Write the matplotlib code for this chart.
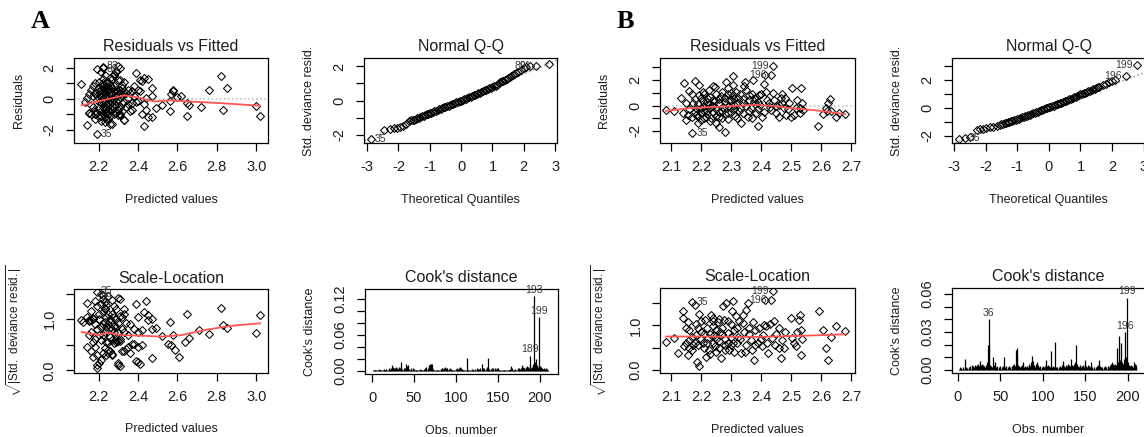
import matplotlib
matplotlib.use("Agg")
import matplotlib.pyplot as plt
import numpy as np

plt.rcParams['font.family'] = ['Liberation Sans', 'DejaVu Sans']
plt.rcParams['mathtext.fontset'] = 'custom'
plt.rcParams['mathtext.rm'] = 'Liberation Sans'

# ---------------- model A ----------------
# residuals vs fitted (fitted, residual)
resfit_a = [
    (2.11, 0.95), (2.13, -0.2), (2.14, -1.7), (2.15, 0.3), (2.15, -0.9), (2.16, 0.6), (2.16, -0.4),
    (2.14, 0.05), (2.16, -1.0), (2.15, -0.95), (2.17, 0.8), (2.17, -0.5), (2.18, 1.0), (2.18, 0.4),
    (2.18, -0.8), (2.18, -1.3), (2.19, 1.9), (2.19, 0.2), (2.19, -0.1), (2.19, -0.95), (2.19, -2.3),
    (2.2, 0.7), (2.2, -0.6), (2.2, 0.5), (2.17, 0.2), (2.18, -1.0), (2.2, 1.1), (2.2, -1.2),
    (2.21, 1.75), (2.21, 0.6), (2.21, 0.3), (2.21, -0.3), (2.21, -0.8), (2.21, -1.45), (2.22, 2.0),
    (2.22, 1.3), (2.22, 0.9), (2.22, 0.0), (2.22, -0.5), (2.22, -1.0), (2.23, 1.55), (2.23, 0.7),
    (2.23, 0.4), (2.23, -0.2), (2.23, -0.7), (2.23, -1.2), (2.23, -1.5), (2.24, 1.0), (2.24, 0.5),
    (2.24, 0.1), (2.24, -0.4), (2.24, -0.9), (2.24, -1.3), (2.22, 2.05), (2.21, 0.1), (2.22, -0.2),
    (2.23, 0.2), (2.24, 0.8), (2.21, -1.1), (2.22, 0.6), (2.23, -0.95), (2.24, -0.6), (2.22, 1.05),
    (2.25, 1.1), (2.25, 0.6), (2.25, 0.2), (2.25, -0.3), (2.25, -0.8), (2.25, -1.3), (2.26, 0.9),
    (2.26, 0.4), (2.26, -0.1), (2.26, -0.6), (2.26, -1.1), (2.26, -1.6), (2.27, 1.25), (2.27, 0.7),
    (2.27, 0.3), (2.27, -0.2), (2.27, -0.75), (2.27, -1.65), (2.28, 1.6), (2.28, 0.5), (2.28, 0.0),
    (2.28, -0.5), (2.28, -1.0), (2.25, 0.0), (2.26, 0.65), (2.27, -0.45), (2.28, 0.8), (2.25, -1.0),
    (2.26, 1.35), (2.27, 0.05), (2.29, 1.8), (2.29, 0.6), (2.29, 0.2), (2.29, -0.4), (2.29, -0.9),
    (2.3, 2.1), (2.3, 1.2), (2.3, 0.5), (2.3, -0.1), (2.3, -0.7), (2.3, -1.05), (2.31, 2.0),
    (2.31, 1.2), (2.31, 0.6), (2.31, 0.1), (2.31, -0.5), (2.31, -1.0), (2.32, 0.9), (2.32, 0.3),
    (2.32, -0.3), (2.33, 1.1), (2.33, 0.5), (2.33, -0.2), (2.33, -1.4), (2.32, 0.7), (2.3, 0.3),
    (2.29, -0.15), (2.31, 0.4), (2.32, -0.8), (2.34, 0.4), (2.34, -0.5), (2.35, 0.08), (2.35, -0.35),
    (2.35, 0.6), (2.36, 0.37), (2.36, -0.8), (2.37, 0.5), (2.37, -0.3), (2.37, -0.7), (2.38, 0.8),
    (2.38, 0.2), (2.39, 1.7), (2.39, -0.2), (2.42, 1.15), (2.45, 1.3), (2.43, 1.35), (2.41, 1.2),
    (2.47, 0.7), (2.4, 0.6), (2.41, 0.5), (2.44, 0.05), (2.43, -0.35), (2.44, -0.7), (2.42, -1.0),
    (2.45, -1.15), (2.43, -1.75), (2.47, -1.2), (2.49, -0.6), (2.52, -0.4), (2.47, 0.15), (2.56, -0.15),
    (2.56, -0.8), (2.57, 0.3), (2.58, 0.6), (2.58, 0.5), (2.6, 0.1), (2.62, 0.15), (2.65, -0.3),
    (2.66, -0.4), (2.65, -1.1), (2.72, -0.55), (2.76, 0.6), (2.82, 1.45), (2.83, -0.7), (2.85, 0.7),
    (3.0, -0.45), (3.02, -1.1), (2.33, -1.4), (2.31, -1.05), (2.4, -0.15), (2.28, 1.55), (2.29, 1.75),
]
smooth_rf_a = [(2.115, -0.43), (2.23, -0.07), (2.33, 0.22), (2.4, 0.09), (2.48, -0.17),
               (2.57, -0.1), (2.65, -0.17), (2.82, -0.28), (3.02, -0.45)]

# normal Q-Q (theoretical quantile, std. deviance residual)
qq_a = [
    (-2.88, -2.24), (-2.47, -1.74), (-2.28, -1.66), (-2.15, -1.63), (-2.06, -1.6), (-1.95, -1.55),
    (-1.85, -1.5), (-1.75, -1.4), (-1.67, -1.2), (-1.6, -1.17), (-1.55, -1.15), (-1.5, -1.12),
    (-1.45, -1.08), (-1.4, -1.05), (-1.35, -1.01), (-1.3, -0.98), (-1.25, -0.94), (-1.2, -0.9),
    (-1.15, -0.86), (-1.1, -0.82), (-1.05, -0.78), (-1.0, -0.74), (-0.95, -0.71), (-0.9, -0.68),
    (-0.85, -0.64), (-0.8, -0.6), (-0.75, -0.56), (-0.7, -0.52), (-0.65, -0.49), (-0.6, -0.45),
    (-0.55, -0.41), (-0.5, -0.38), (-0.45, -0.34), (-0.4, -0.3), (-0.35, -0.26), (-0.3, -0.22),
    (-0.25, -0.18), (-0.2, -0.14), (-0.15, -0.1), (-0.1, -0.07), (-0.05, -0.03), (0.0, 0.0),
    (0.05, 0.04), (0.1, 0.08), (0.15, 0.11), (0.2, 0.15), (0.25, 0.19), (0.3, 0.23), (0.35, 0.27),
    (0.4, 0.3), (0.45, 0.34), (0.5, 0.38), (0.55, 0.43), (0.6, 0.47), (0.65, 0.52), (0.7, 0.56),
    (0.75, 0.6), (0.8, 0.64), (0.85, 0.68), (0.9, 0.72), (0.95, 0.76), (1.0, 0.8), (1.05, 0.84),
    (1.1, 0.88), (1.15, 0.94), (1.2, 1.0), (1.25, 1.06), (1.3, 1.12), (1.35, 1.17), (1.4, 1.22),
    (1.45, 1.27), (1.5, 1.32), (1.55, 1.38), (1.6, 1.45), (1.65, 1.51), (1.7, 1.57), (1.75, 1.63),
    (1.8, 1.7), (1.9, 1.8), (2.0, 1.92), (2.08, 1.98), (2.2, 2.01), (2.38, 2.03), (2.8, 2.12),
]
qqline_a = [(-3.2, -2.44), (3.2, 2.48)]

# scale-location (fitted, sqrt|std. deviance residual|)
scaleloc_a = [
    (2.11, 0.98), (2.12, 0.95), (2.14, 1.32), (2.14, 1.05), (2.14, 0.46), (2.15, 0.69), (2.15, 0.97),
    (2.15, 0.99), (2.16, 1.17), (2.16, 0.37), (2.16, 0.98), (2.16, 0.75), (2.17, 0.27), (2.17, 1.0),
    (2.17, 0.55), (2.17, 1.02), (2.18, 1.35), (2.18, 0.9), (2.18, 0.62), (2.18, 0.45), (2.19, 1.54),
    (2.19, 0.11), (2.19, 0.05), (2.19, 1.25), (2.19, 0.8), (2.19, 0.3), (2.2, 1.0), (2.2, 0.7),
    (2.2, 0.15), (2.2, 1.1), (2.21, 0.2), (2.21, 0.85), (2.21, 1.3), (2.21, 0.6), (2.22, 0.34),
    (2.22, 1.4), (2.22, 0.9), (2.22, 0.7), (2.22, 1.15), (2.23, 0.43), (2.23, 1.33), (2.23, 0.95),
    (2.23, 0.75), (2.23, 1.2), (2.23, 1.22), (2.24, 0.55), (2.24, 0.85), (2.24, 1.05), (2.24, 0.3),
    (2.24, 1.27), (2.25, 0.56), (2.25, 0.9), (2.25, 1.1), (2.25, 0.35), (2.25, 0.4), (2.25, 1.45),
    (2.26, 0.66), (2.26, 0.95), (2.26, 0.38), (2.26, 0.85), (2.26, 1.0), (2.27, 1.37), (2.27, 0.6),
    (2.27, 0.8), (2.27, 1.1), (2.27, 0.32), (2.27, 0.3), (2.28, 0.75), (2.28, 0.53), (2.28, 1.05),
    (2.28, 0.87), (2.28, 1.25), (2.29, 0.85), (2.29, 0.55), (2.29, 0.6), (2.29, 1.0), (2.29, 1.2),
    (2.3, 0.92), (2.3, 0.11), (2.3, 0.15), (2.3, 1.41), (2.3, 0.57), (2.3, 0.75), (2.31, 1.4),
    (2.31, 0.08), (2.31, 1.06), (2.31, 0.58), (2.31, 0.62), (2.32, 0.8), (2.32, 1.05), (2.32, 0.38),
    (2.33, 0.37), (2.33, 1.1), (2.33, 1.19), (2.33, 0.75), (2.34, 0.92), (2.34, 0.42), (2.35, 0.7),
    (2.35, 0.45), (2.36, 0.9), (2.36, 0.35), (2.37, 0.52), (2.38, 0.51), (2.38, 0.8), (2.39, 1.3),
    (2.39, 0.19), (2.4, 1.05), (2.4, 0.75), (2.4, 0.46), (2.4, 0.16), (2.41, 0.13), (2.42, 0.79),
    (2.42, 0.5), (2.43, 1.14), (2.44, 1.35), (2.45, 1.08), (2.45, 0.98), (2.47, 1.01), (2.47, 0.8),
    (2.47, 0.24), (2.49, 0.82), (2.52, 0.68), (2.56, 0.95), (2.55, 0.51), (2.57, 0.49), (2.58, 0.69),
    (2.59, 0.39), (2.61, 0.27), (2.64, 0.56), (2.66, 0.64), (2.65, 1.11), (2.71, 0.79), (2.76, 0.72),
    (2.82, 1.21), (2.83, 0.88), (2.85, 0.82), (3.0, 0.74), (3.02, 1.09), (2.21, 1.49), (2.22, 1.47),
]
smooth_sl_a = [(2.115, 0.75), (2.2, 0.69), (2.25, 0.74), (2.31, 0.69), (2.4, 0.68), (2.52, 0.66),
               (2.62, 0.69), (2.74, 0.79), (2.87, 0.87), (3.02, 0.92)]

# Cook's distance, observations 1..210
cooks_a = [
    0.001, 0.0005, 0.002, 0.001, 0.0008, 0.0015, 0.001, 0.003, 0.0005, 0.001,
    0.002, 0.001, 0.0007, 0.0025, 0.001, 0.0012, 0.003, 0.002, 0.001, 0.004,
    0.002, 0.003, 0.005, 0.009, 0.006, 0.004, 0.003, 0.005, 0.007, 0.004,
    0.003, 0.006, 0.005, 0.004, 0.014, 0.003, 0.002, 0.004, 0.005, 0.003,
    0.012, 0.008, 0.01, 0.003, 0.002, 0.004, 0.002, 0.001, 0.004, 0.003,
    0.001, 0.002, 0.001, 0.0015, 0.002, 0.001, 0.003, 0.001, 0.002, 0.001,
    0.002, 0.003, 0.004, 0.006, 0.002, 0.001, 0.004, 0.01, 0.012, 0.012,
    0.011, 0.004, 0.003, 0.002, 0.001, 0.002, 0.001, 0.0015, 0.002, 0.001,
    0.002, 0.003, 0.004, 0.005, 0.003, 0.004, 0.006, 0.005, 0.004, 0.003,
    0.002, 0.003, 0.004, 0.003, 0.002, 0.001, 0.002, 0.001, 0.002, 0.003,
    0.004, 0.002, 0.003, 0.005, 0.007, 0.004, 0.003, 0.002, 0.001, 0.002,
    0.001, 0.002, 0.022, 0.002, 0.001, 0.002, 0.001, 0.002, 0.003, 0.002,
    0.001, 0.002, 0.003, 0.002, 0.004, 0.003, 0.002, 0.003, 0.004, 0.002,
    0.011, 0.005, 0.003, 0.004, 0.002, 0.003, 0.006, 0.021, 0.004, 0.003,
    0.002, 0.003, 0.005, 0.004, 0.003, 0.002, 0.004, 0.003, 0.005, 0.004,
    0.002, 0.001, 0.0015, 0.001, 0.002, 0.001, 0.0005, 0.001, 0.0015, 0.001,
    0.001, 0.0005, 0.001, 0.002, 0.003, 0.008, 0.004, 0.002, 0.001, 0.002,
    0.003, 0.001, 0.002, 0.004, 0.005, 0.002, 0.003, 0.004, 0.009, 0.006,
    0.004, 0.005, 0.003, 0.007, 0.008, 0.006, 0.004, 0.01, 0.025, 0.005,
    0.006, 0.012, 0.125, 0.015, 0.007, 0.02, 0.01, 0.006, 0.09, 0.008,
    0.004, 0.006, 0.005, 0.003, 0.004, 0.002, 0.003, 0.005, 0.003, 0.002,
]

# ---------------- model B ----------------
resfit_b = [
    (2.083, -0.34), (2.11, -0.47), (2.133, 0.58), (2.144, 1.76), (2.15, -1.13), (2.156, -0.74),
    (2.161, 1.16), (2.17, -2.13), (2.172, 0.18), (2.181, 1.95), (2.183, -0.21), (2.183, -0.74),
    (2.189, -1.39), (2.192, 1.63), (2.194, 0.84), (2.2, -1.13), (2.206, 1.1), (2.206, 0.32),
    (2.211, -0.47), (2.217, -0.87), (2.22, 0.6), (2.228, 1.24), (2.228, 0.05), (2.233, -1.0),
    (2.239, 1.5), (2.245, 1.45), (2.248, 0.32), (2.25, -1.39), (2.259, -0.87), (2.261, -1.66),
    (2.267, 0.71), (2.272, -0.08), (2.281, -2.05), (2.283, 1.89), (2.289, 1.37), (2.289, -0.61),
    (2.294, 0.45), (2.3, -0.21), (2.306, 2.29), (2.306, 0.84), (2.308, 1.63), (2.311, 0.05),
    (2.314, -0.79), (2.317, 1.1), (2.322, 0.58), (2.328, -0.47), (2.333, -1.39), (2.339, 0.18),
    (2.344, 1.5), (2.348, 1.89), (2.356, -0.87), (2.361, 0.84), (2.367, -0.21), (2.372, 2.03),
    (2.378, 0.32), (2.383, -0.61), (2.389, -1.61), (2.394, 0.84), (2.397, 0.05), (2.403, -0.87),
    (2.411, 1.68), (2.414, 2.42), (2.417, 1.1), (2.428, 0.18), (2.433, 2.42), (2.439, 3.08),
    (2.433, -0.34), (2.444, 0.45), (2.45, -0.61), (2.461, 0.05), (2.467, 0.58), (2.47, 0.89),
    (2.478, -0.21), (2.483, -0.74), (2.494, 0.18), (2.502, 1.37), (2.511, -0.74), (2.517, -0.21),
    (2.53, -0.61), (2.533, 1.37), (2.536, 0.18), (2.539, -0.34), (2.591, -1.58), (2.606, -0.68),
    (2.617, -0.21), (2.624, 0.18), (2.633, -0.47), (2.65, -0.87), (2.68, -0.68),
    (2.14, -0.6), (2.15, 0.2), (2.16, -0.3), (2.17, 0.9), (2.17, -0.9), (2.18, 0.5), (2.18, -0.5),
    (2.19, 0.1), (2.19, -0.8), (2.2, 0.6), (2.2, -0.2), (2.2, -0.6), (2.21, 0.9), (2.21, 0.0),
    (2.21, -1.0), (2.22, 0.3), (2.22, -0.4), (2.22, -0.7), (2.23, 0.7), (2.23, -0.2), (2.23, -1.2),
    (2.24, 0.4), (2.24, -0.5), (2.24, 0.0), (2.25, 0.9), (2.25, -0.3), (2.25, -0.8), (2.26, 0.2),
    (2.26, 0.5), (2.26, -0.5), (2.27, 1.1), (2.27, -0.4), (2.27, -1.0), (2.28, 0.3), (2.28, -0.7),
    (2.28, 0.6), (2.29, 0.0), (2.29, 0.9), (2.29, -1.1), (2.3, 0.4), (2.3, -0.5), (2.3, 1.0),
    (2.31, -0.3), (2.31, 0.5), (2.32, -1.0), (2.32, 0.2), (2.33, 0.9), (2.33, -0.2), (2.34, 0.5),
    (2.34, -0.6), (2.35, 1.2), (2.35, 0.0), (2.36, 0.4), (2.36, -0.4), (2.37, 0.9), (2.37, -1.0),
    (2.38, 0.1), (2.38, 0.6), (2.39, -0.3), (2.39, 0.3), (2.4, 0.9), (2.41, -0.5), (2.42, 0.4),
    (2.43, -0.1), (2.44, 1.0), (2.45, 0.0), (2.46, -0.9), (2.47, 0.2), (2.48, 0.6), (2.49, -0.3),
    (2.5, -0.9), (2.52, 0.4), (2.53, -0.2), (2.62, -0.4), (2.63, 0.5), (2.66, -0.6),
]
smooth_rf_b = [(2.083, -0.42), (2.161, -0.21), (2.272, -0.08), (2.383, 0.05), (2.45, -0.05),
               (2.494, -0.2), (2.583, -0.38), (2.68, -0.68)]

qq_b = [
    (-2.84, -2.24), (-2.65, -2.17), (-2.5, -2.05), (-2.28, -1.61), (-2.18, -1.52), (-2.07, -1.48),
    (-1.97, -1.45), (-1.87, -1.39), (-1.76, -1.33), (-1.65, -1.26), (-1.55, -1.2), (-1.5, -1.17),
    (-1.45, -1.13), (-1.4, -1.1), (-1.35, -1.06), (-1.3, -1.03), (-1.25, -0.99), (-1.2, -0.95),
    (-1.15, -0.91), (-1.1, -0.87), (-1.05, -0.83), (-1.0, -0.79), (-0.95, -0.75), (-0.9, -0.71),
    (-0.85, -0.67), (-0.8, -0.63), (-0.75, -0.59), (-0.7, -0.55), (-0.65, -0.51), (-0.6, -0.47),
    (-0.55, -0.43), (-0.5, -0.38), (-0.45, -0.34), (-0.4, -0.3), (-0.35, -0.26), (-0.3, -0.21),
    (-0.25, -0.17), (-0.2, -0.12), (-0.15, -0.08), (-0.1, -0.03), (-0.05, 0.02), (0.0, 0.06),
    (0.05, 0.1), (0.1, 0.14), (0.15, 0.18), (0.2, 0.23), (0.25, 0.27), (0.3, 0.31), (0.35, 0.35),
    (0.4, 0.4), (0.45, 0.44), (0.5, 0.49), (0.55, 0.53), (0.6, 0.58), (0.65, 0.63), (0.7, 0.68),
    (0.75, 0.73), (0.8, 0.78), (0.85, 0.83), (0.9, 0.88), (0.95, 0.93), (1.0, 0.98), (1.05, 1.03),
    (1.1, 1.08), (1.15, 1.12), (1.2, 1.17), (1.25, 1.22), (1.3, 1.26), (1.35, 1.31), (1.4, 1.36),
    (1.45, 1.4), (1.5, 1.45), (1.55, 1.5), (1.6, 1.55), (1.7, 1.65), (1.8, 1.75), (1.9, 1.85),
    (2.0, 1.95), (2.1, 2.0), (2.45, 2.32), (2.79, 3.09),
]
qqline_b = [(-3.2, -2.69), (3.2, 2.69)]

scaleloc_b = [
    (2.083, 0.62), (2.111, 0.71), (2.122, 0.38), (2.139, 1.32), (2.141, 1.17), (2.144, 0.53),
    (2.15, 0.94), (2.156, 1.08), (2.156, 0.34), (2.161, 0.68), (2.161, 0.49), (2.17, 1.53),
    (2.174, 0.56), (2.181, 1.45), (2.183, 1.02), (2.183, 0.79), (2.187, 0.17), (2.192, 0.08),
    (2.194, 1.26), (2.2, 0.86), (2.206, 0.6), (2.214, 1.13), (2.217, 0.28), (2.222, 0.71),
    (2.228, 0.45), (2.233, 1.24), (2.239, 0.98), (2.241, 1.17), (2.244, 0.79), (2.248, 0.53),
    (2.25, 0.41), (2.256, 1.08), (2.261, 0.64), (2.263, 0.86), (2.267, 0.26), (2.272, 1.43),
    (2.278, 1.13), (2.281, 0.56), (2.283, 1.5), (2.289, 0.83), (2.294, 0.45), (2.3, 1.02),
    (2.303, 1.32), (2.306, 1.54), (2.308, 0.6), (2.317, 1.2), (2.322, 0.75), (2.328, 1.09),
    (2.333, 0.38), (2.341, 1.24), (2.344, 0.86), (2.348, 0.41), (2.35, 1.35), (2.356, 1.5),
    (2.361, 0.94), (2.367, 0.68), (2.374, 1.08), (2.378, 0.23), (2.381, 0.56), (2.414, 1.56),
    (2.394, 0.95), (2.403, 0.53), (2.408, 0.79), (2.417, 0.98), (2.422, 0.38), (2.433, 1.56),
    (2.43, 1.03), (2.439, 1.78), (2.437, 0.71), (2.444, 1.09), (2.448, 0.56), (2.461, 0.94),
    (2.467, 0.26), (2.47, 0.68), (2.478, 0.49), (2.5, 1.17), (2.503, 0.71), (2.517, 0.53),
    (2.528, 1.13), (2.531, 1.23), (2.534, 0.9), (2.533, 0.34), (2.536, 0.7), (2.592, 1.32),
    (2.606, 0.9), (2.617, 0.49), (2.622, 0.23), (2.633, 0.75), (2.65, 0.98), (2.681, 0.88),
    (2.15, 0.6), (2.16, 0.9), (2.17, 0.75), (2.17, 0.45), (2.18, 0.6), (2.19, 0.95), (2.19, 0.55),
    (2.2, 0.7), (2.2, 1.1), (2.21, 0.5), (2.21, 0.8), (2.22, 0.95), (2.22, 0.6), (2.23, 0.35),
    (2.23, 0.8), (2.24, 1.1), (2.24, 0.6), (2.25, 0.9), (2.25, 0.7), (2.26, 1.15), (2.26, 0.5),
    (2.27, 0.8), (2.27, 0.95), (2.28, 0.7), (2.28, 0.45), (2.29, 1.1), (2.29, 0.6), (2.3, 0.75),
    (2.3, 0.55), (2.31, 0.9), (2.31, 0.4), (2.32, 0.6), (2.32, 0.95), (2.33, 0.7), (2.34, 1.05),
    (2.35, 0.55), (2.36, 0.8), (2.37, 0.45), (2.38, 0.9), (2.39, 0.6), (2.4, 0.7), (2.41, 1.0),
    (2.42, 0.6), (2.45, 0.8), (2.46, 0.5), (2.48, 0.85), (2.51, 0.6), (2.52, 0.85),
]
smooth_sl_b = [(2.083, 0.75), (2.2, 0.75), (2.383, 0.74), (2.5, 0.76), (2.6, 0.78), (2.681, 0.8)]

cooks_b = [
    0.001, 0.002, 0.001, 0.0015, 0.001, 0.002, 0.001, 0.009, 0.002, 0.001,
    0.0015, 0.001, 0.002, 0.003, 0.001, 0.002, 0.004, 0.003, 0.002, 0.004,
    0.003, 0.004, 0.002, 0.005, 0.003, 0.007, 0.004, 0.005, 0.003, 0.004,
    0.003, 0.002, 0.004, 0.006, 0.02, 0.04, 0.02, 0.004, 0.003, 0.002,
    0.01, 0.004, 0.006, 0.003, 0.002, 0.003, 0.001, 0.002, 0.003, 0.002,
    0.001, 0.002, 0.003, 0.01, 0.002, 0.003, 0.002, 0.001, 0.002, 0.003,
    0.002, 0.001, 0.002, 0.003, 0.004, 0.005, 0.003, 0.016, 0.01, 0.017,
    0.004, 0.003, 0.002, 0.003, 0.004, 0.002, 0.006, 0.002, 0.003, 0.002,
    0.003, 0.002, 0.004, 0.005, 0.003, 0.006, 0.011, 0.007, 0.004, 0.003,
    0.002, 0.005, 0.006, 0.004, 0.002, 0.003, 0.002, 0.001, 0.002, 0.003,
    0.002, 0.003, 0.004, 0.008, 0.003, 0.004, 0.003, 0.002, 0.015, 0.003,
    0.002, 0.003, 0.002, 0.022, 0.002, 0.001, 0.002, 0.001, 0.002, 0.003,
    0.002, 0.004, 0.007, 0.005, 0.003, 0.002, 0.004, 0.003, 0.002, 0.005,
    0.004, 0.003, 0.009, 0.004, 0.003, 0.005, 0.004, 0.006, 0.02, 0.005,
    0.003, 0.002, 0.004, 0.003, 0.002, 0.003, 0.004, 0.002, 0.005, 0.008,
    0.003, 0.002, 0.004, 0.003, 0.002, 0.006, 0.003, 0.002, 0.001, 0.002,
    0.001, 0.002, 0.003, 0.002, 0.004, 0.008, 0.003, 0.002, 0.001, 0.002,
    0.001, 0.002, 0.003, 0.002, 0.001, 0.002, 0.003, 0.002, 0.004, 0.005,
    0.006, 0.005, 0.004, 0.003, 0.005, 0.004, 0.017, 0.006, 0.009, 0.027,
    0.008, 0.021, 0.006, 0.005, 0.009, 0.03, 0.007, 0.01, 0.057, 0.006,
    0.004, 0.003, 0.002, 0.004, 0.003, 0.002, 0.006, 0.005, 0.004, 0.002,
]

# labelled points: (x, y, text, side)
lab_rf_a = [(2.19, -2.3, '35', 'r'), (2.22, 1.95, '89', 'r'), (2.22, 2.1, '83', 'r')]
lab_qq_a = [(-2.88, -2.24, '35', 'r'), (2.2, 2.01, '89', 'l'), (2.38, 2.03, '91', 'l')]
lab_sl_a = [(2.19, 1.56, '35', 'r'), (2.19, 1.44, '89', 'r')]
lab_ck_a = [(193, '193'), (199, '199'), (189, '189')]
lab_rf_b = [(2.17, -2.13, '35', 'r'), (2.433, 2.42, '196', 'l'), (2.439, 3.08, '199', 'l')]
lab_qq_b = [(-2.65, -2.17, '35', 'r'), (2.45, 2.32, '196', 'l'), (2.79, 3.09, '199', 'l')]
lab_sl_b = [(2.17, 1.53, '35', 'r'), (2.433, 1.56, '196', 'l'), (2.439, 1.78, '199', 'l')]
lab_ck_b = [(36, '36'), (196, '196'), (199, '199')]

TXT = '#1e1e1e'
LAB = '#3a3a3a'
RED = '#ff5555'


def frame(ax, title, xlabel, ylabel, xlim, ylim, xt, xtl, yt, ytl):
    ax.set_xlim(xlim)
    ax.set_ylim(ylim)
    ax.set_xticks(xt)
    ax.set_xticklabels(xtl, fontsize=10.5, color=TXT)
    ax.set_yticks(yt)
    ax.set_yticklabels(ytl, fontsize=10.5, color=TXT, rotation=90, va='center')
    ax.tick_params(length=5.5, width=0.9, pad=7, direction='out')
    for s in ax.spines.values():
        s.set_linewidth(0.9)
    ax.text(0.5, 1.13, title, transform=ax.transAxes, ha='center', va='center',
            fontsize=11.5, color=TXT)
    ax.set_xlabel(xlabel, fontsize=9, color=TXT, va='center')
    ax.xaxis.set_label_coords(0.5, -0.67)
    ax.set_ylabel(ylabel, fontsize=9, color=TXT, va='center')
    ax.yaxis.set_label_coords(-0.285, 0.5)


def pts(ax, data):
    d = np.array(data)
    ax.plot(d[:, 0], d[:, 1], ls='none', marker='D', ms=3.7, mfc='none',
            mec='black', mew=0.75)


def labels(ax, items):
    for x, y, t, side in items:
        off = 3 if side == 'r' else -3
        ax.annotate(t, (x, y), xytext=(off, 0), textcoords='offset points',
                    ha='left' if side == 'r' else 'right', va='center',
                    fontsize=7.5, color=LAB)


def resfit_panel(ax, data, smooth, labs, xlim, ylim, xt, yt, ytl):
    ax.axhline(0, color='#bdbdbd', ls=':', lw=1.1)
    pts(ax, data)
    s = np.array(smooth)
    ax.plot(s[:, 0], s[:, 1], color=RED, lw=1.3)
    labels(ax, labs)
    frame(ax, 'Residuals vs Fitted', 'Predicted values', 'Residuals', xlim, ylim,
          xt, ['%.1f' % v for v in xt], yt, ytl)


def qq_panel(ax, data, line, labs, xlim, ylim, yt, ytl):
    l = np.array(line)
    ax.plot(l[:, 0], l[:, 1], color='#9a9a9a', ls=':', lw=1.1)
    pts(ax, data)
    labels(ax, labs)
    frame(ax, 'Normal Q-Q', 'Theoretical Quantiles', 'Std. deviance resid.', xlim, ylim,
          [-3, -2, -1, 0, 1, 2, 3], ['-3', '-2', '-1', '0', '1', '2', '3'], yt, ytl)


def sl_panel(ax, data, smooth, labs, xlim, ylim, xt):
    pts(ax, data)
    s = np.array(smooth)
    ax.plot(s[:, 0], s[:, 1], color=RED, lw=1.3)
    labels(ax, labs)
    frame(ax, 'Scale-Location', 'Predicted values',
          r'$\sqrt{|\mathrm{Std.\ deviance\ resid.}|}$', xlim, ylim,
          xt, ['%.1f' % v for v in xt], [0, 0.5, 1.0, 1.5], ['0.0', '', '1.0', ''])
    ax.yaxis.label.set_fontsize(8.5)
    ax.yaxis.set_label_coords(-0.31, 0.5)


def cook_panel(ax, vals, labs, xlim, ylim, yt, ytl):
    obs = np.arange(1, len(vals) + 1)
    ax.vlines(obs, 0, vals, color='black', lw=0.9)
    for o, t in labs:
        ax.annotate(t, (o, vals[o - 1]), xytext=(0, 1), textcoords='offset points',
                    ha='center', va='bottom', fontsize=7.5, color=LAB)
    frame(ax, "Cook's distance", 'Obs. number', "Cook's distance", xlim, ylim,
          [0, 50, 100, 150, 200], ['0', '50', '100', '150', '200'], yt, ytl)


fig = plt.figure(figsize=(11.44, 4.37), dpi=100)
W, H = 1144.0, 437.0


def box(x0, x1, y0, y1):
    return fig.add_axes([x0 / W, 1 - y1 / H, (x1 - x0) / W, (y1 - y0) / H])


ax = box(74, 268, 58, 143)
resfit_panel(ax, resfit_a, smooth_rf_a, lab_rf_a, (2.075, 3.06), (-2.86, 2.64),
             [2.2, 2.4, 2.6, 2.8, 3.0], [-2, -1, 0, 1, 2], ['-2', '', '0', '', '2'])

ax = box(364, 557, 58, 143)
qq_panel(ax, qq_a, qqline_a, lab_qq_a, (-3.1, 3.06), (-2.5, 2.5),
         [-2, -1, 0, 1, 2], ['-2', '', '0', '', '2'])

ax = box(74, 268, 289, 373)
sl_panel(ax, scaleloc_a, smooth_sl_a, lab_sl_a, (2.075, 3.06), (-0.05, 1.59),
         [2.2, 2.4, 2.6, 2.8, 3.0])

ax = box(365, 558, 289, 374)
cook_panel(ax, cooks_a, lab_ck_a, (-8.4, 222), (-0.0055, 0.137),
           [0, 0.02, 0.04, 0.06, 0.08, 0.10, 0.12],
           ['0.00', '', '', '0.06', '', '', '0.12'])

ax = box(660, 855, 58, 143)
resfit_panel(ax, resfit_b, smooth_rf_b, lab_rf_b, (2.063, 2.713), (-2.95, 3.74),
             [2.1, 2.2, 2.3, 2.4, 2.5, 2.6, 2.7], [-2, -1, 0, 1, 2, 3],
             ['-2', '', '0', '', '2', ''])

ax = box(952, 1145, 58, 143)
qq_panel(ax, qq_b, qqline_b, lab_qq_b, (-3.06, 3.04), (-2.51, 3.6),
         [-2, -1, 0, 1, 2, 3], ['-2', '', '0', '', '2', ''])

ax = box(660, 855, 288, 373)
sl_panel(ax, scaleloc_b, smooth_sl_b, lab_sl_b, (2.063, 2.713), (-0.07, 1.84),
         [2.1, 2.2, 2.3, 2.4, 2.5, 2.6, 2.7])

ax = box(952, 1145, 288, 373)
cook_panel(ax, cooks_b, lab_ck_b, (-7, 220), (-0.0024, 0.0647),
           [0, 0.01, 0.02, 0.03, 0.04, 0.05, 0.06],
           ['0.00', '', '', '0.03', '', '', '0.06'])

fig.text(40 / W, 1 - 22 / H, 'A', fontsize=19, fontweight='bold',
         family='Liberation Serif', ha='center', va='center')
fig.text(625 / W, 1 - 22 / H, 'B', fontsize=19, fontweight='bold',
         family='Liberation Serif', ha='center', va='center')

fig.savefig('out.png', dpi=100)
